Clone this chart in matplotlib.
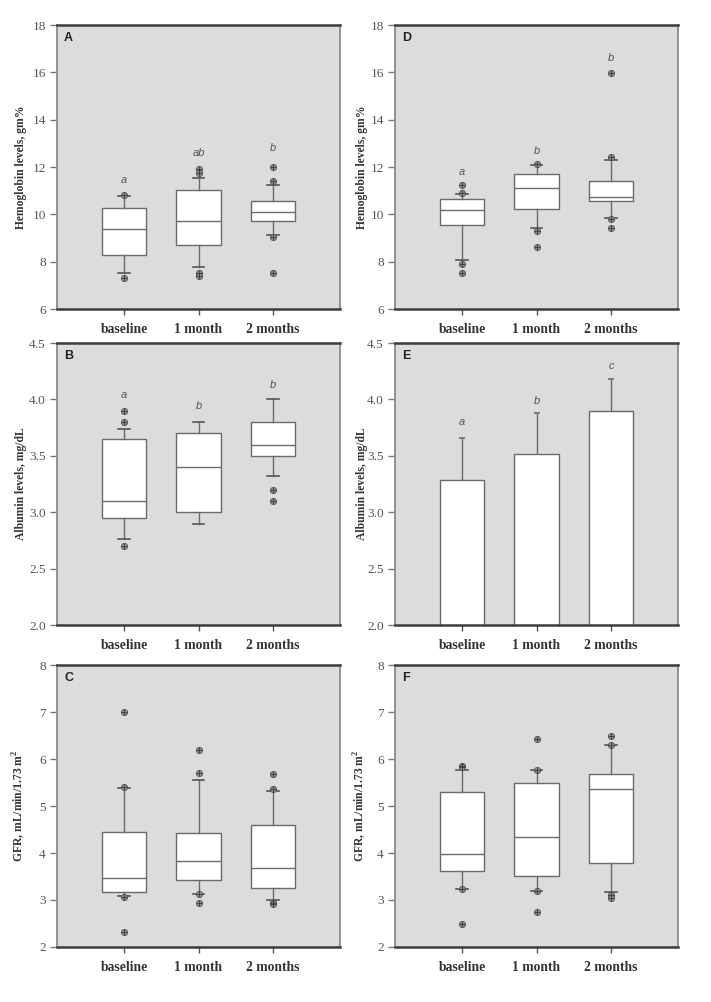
import numpy as np
import matplotlib.pyplot as plt

plt.rcParams["font.family"] = ["Liberation Serif", "DejaVu Serif"]
plt.rcParams["mathtext.fontset"] = "custom"
plt.rcParams["mathtext.rm"] = "Liberation Serif"
plt.rcParams["mathtext.bf"] = "Liberation Serif:bold"

groups = ["baseline", "1 month", "2 months"]
pos = [1, 2, 3]

# A - hemoglobin (group 1)
a_q1 = [8.28, 8.71, 9.73]
a_med = [9.40, 9.70, 10.11]
a_q3 = [10.26, 11.02, 10.58]
a_lo = [7.51, 7.77, 9.11]
a_hi = [10.77, 11.55, 11.24]
a_fliers = [[10.80, 7.33], [11.92, 11.75, 7.54, 7.41], [11.99, 11.40, 9.04, 7.51]]
a_letters = ["a", "ab", "b"]
a_letter_y = [11.47, 12.6, 12.81]

# D - hemoglobin (group 2)
d_q1 = [9.56, 10.24, 10.58]
d_med = [10.20, 11.12, 10.72]
d_q3 = [10.65, 11.71, 11.40]
d_lo = [8.08, 9.43, 9.86]
d_hi = [10.88, 12.08, 12.29]
d_fliers = [[11.22, 10.89, 7.91, 7.51], [12.11, 9.31, 8.61], [15.99, 12.42, 9.82, 9.41]]
d_letters = ["a", "b", "b"]
d_letter_y = [11.80, 12.67, 16.59]

# B - albumin (group 1)
b_q1 = [2.95, 3.00, 3.50]
b_med = [3.10, 3.40, 3.60]
b_q3 = [3.65, 3.70, 3.80]
b_lo = [2.76, 2.90, 3.32]
b_hi = [3.74, 3.80, 4.00]
b_fliers = [[3.90, 3.80, 2.70], [], [3.20, 3.10]]
b_letters = ["a", "b", "b"]
b_letter_y = [4.04, 3.94, 4.13]

# E - albumin (group 2), mean + SD
e_mean = [3.29, 3.52, 3.90]
e_sd = [0.37, 0.36, 0.28]
e_letters = ["a", "b", "c"]
e_letter_y = [3.80, 3.99, 4.30]

# C - GFR (group 1)
c_q1 = [3.16, 3.42, 3.26]
c_med = [3.47, 3.84, 3.69]
c_q3 = [4.44, 4.42, 4.60]
c_lo = [3.08, 3.13, 3.00]
c_hi = [5.39, 5.55, 5.33]
c_fliers = [[7.01, 5.40, 3.07, 2.32], [6.19, 5.70, 3.12, 2.94], [5.69, 5.36, 2.93, 2.92]]

# F - GFR (group 2)
f_q1 = [3.62, 3.52, 3.79]
f_med = [3.98, 4.33, 5.37]
f_q3 = [5.29, 5.48, 5.69]
f_lo = [3.24, 3.19, 3.17]
f_hi = [5.77, 5.77, 6.30]
f_fliers = [[5.85, 5.82, 3.24, 2.48], [6.42, 5.77, 3.19, 2.74], [6.49, 6.29, 3.11, 3.05]]

hb_label = "Hemoglobin levels, gm%"
alb_label = "Albumin levels, mg/dL"
gfr_label = r"GFR, mL/min/1.73 m$^{\mathbf{2}}$"

LINE = "#6a6a6a"


def style_axes(ax, letter, ylim, yticks, ylabel, fmt, label_x):
    ax.set_facecolor("#dcdcdc")
    ax.set_xlim(0.1, 3.9)
    ax.set_ylim(*ylim)
    ax.set_yticks(yticks)
    ax.set_yticklabels([fmt % v for v in yticks])
    ax.set_xticks(pos)
    ax.set_xticklabels(groups, fontweight="bold")
    for s in ["top", "bottom"]:
        ax.spines[s].set_color("#3c3c3c")
        ax.spines[s].set_linewidth(1.8)
    for s in ["left", "right"]:
        ax.spines[s].set_color("#8a8a8a")
        ax.spines[s].set_linewidth(1.3)
    ax.tick_params(axis="y", direction="out", length=5, width=1, color="#777777",
                   labelcolor="#555555", labelsize=9.6, pad=3)
    ax.tick_params(axis="x", direction="out", length=4, width=1, color="#555555",
                   labelcolor="#333333", labelsize=9.8, pad=6)
    ax.set_ylabel(ylabel, fontsize=8.4, fontweight="bold", color="#333333")
    ax.yaxis.set_label_coords(label_x, 0.5)
    ax.text(0.025, 0.954, letter, transform=ax.transAxes, family="Liberation Sans",
            fontweight="bold", fontsize=9, color="#222222", va="center", ha="left")


def draw_box(ax, q1, med, q3, lo, hi, fliers):
    stats = []
    for i in range(3):
        stats.append(dict(q1=q1[i], med=med[i], q3=q3[i], whislo=lo[i], whishi=hi[i],
                          fliers=fliers[i]))
    ax.bxp(stats, positions=pos, widths=0.6, capwidths=0.15, patch_artist=True,
           boxprops=dict(facecolor="white", edgecolor=LINE, linewidth=1),
           medianprops=dict(color=LINE, linewidth=1),
           whiskerprops=dict(color=LINE, linewidth=1),
           capprops=dict(color="#555555", linewidth=1.2),
           flierprops=dict(marker="o", markersize=4.5, markerfacecolor="#8e8e8e",
                           markeredgecolor="#555555", markeredgewidth=0.6))
    for i, f in enumerate(fliers):
        if f:
            ax.plot([pos[i]] * len(f), f, "+", color="#3a3a3a", ms=4.5, mew=0.6, zorder=4)


def add_letters(ax, letters, ys):
    for x, l, y in zip(pos, letters, ys):
        ax.text(x, y, l, family="Liberation Sans", style="italic", fontsize=8,
                color="#555555", ha="center", va="center")


fig = plt.figure(figsize=(7.11, 10.02), dpi=100)
lx, rx, w = 0.0802, 0.5556, 0.398
rows = [(0.6916, 0.2834), (0.3762, 0.2814), (0.0549, 0.2814)]

axA = fig.add_axes([lx, rows[0][0], w, rows[0][1]])
axD = fig.add_axes([rx, rows[0][0], w, rows[0][1]])
axB = fig.add_axes([lx, rows[1][0], w, rows[1][1]])
axE = fig.add_axes([rx, rows[1][0], w, rows[1][1]])
axC = fig.add_axes([lx, rows[2][0], w, rows[2][1]])
axF = fig.add_axes([rx, rows[2][0], w, rows[2][1]])

hb_ticks = np.arange(6, 19, 2)
alb_ticks = np.arange(2.0, 4.51, 0.5)
gfr_ticks = np.arange(2, 9, 1)

draw_box(axA, a_q1, a_med, a_q3, a_lo, a_hi, a_fliers)
add_letters(axA, a_letters, a_letter_y)
style_axes(axA, "A", (6, 18), hb_ticks, hb_label, "%d", -0.105)

draw_box(axD, d_q1, d_med, d_q3, d_lo, d_hi, d_fliers)
add_letters(axD, d_letters, d_letter_y)
style_axes(axD, "D", (6, 18), hb_ticks, hb_label, "%d", -0.095)

draw_box(axB, b_q1, b_med, b_q3, b_lo, b_hi, b_fliers)
add_letters(axB, b_letters, b_letter_y)
style_axes(axB, "B", (2.0, 4.5), alb_ticks, alb_label, "%.1f", -0.105)

axE.bar(pos, e_mean, width=0.6, color="white", edgecolor=LINE, linewidth=1, zorder=2)
eb = axE.errorbar(pos, e_mean, yerr=[[0, 0, 0], e_sd], fmt="none", ecolor=LINE,
                  elinewidth=1, capsize=2.5, capthick=1.2, zorder=1)
eb[1][0].set_visible(False)
add_letters(axE, e_letters, e_letter_y)
style_axes(axE, "E", (2.0, 4.5), alb_ticks, alb_label, "%.1f", -0.095)

draw_box(axC, c_q1, c_med, c_q3, c_lo, c_hi, c_fliers)
style_axes(axC, "C", (2, 8), gfr_ticks, gfr_label, "%d", -0.105)

draw_box(axF, f_q1, f_med, f_q3, f_lo, f_hi, f_fliers)
style_axes(axF, "F", (2, 8), gfr_ticks, gfr_label, "%d", -0.095)

fig.savefig("out.png", dpi=100, facecolor="white")
